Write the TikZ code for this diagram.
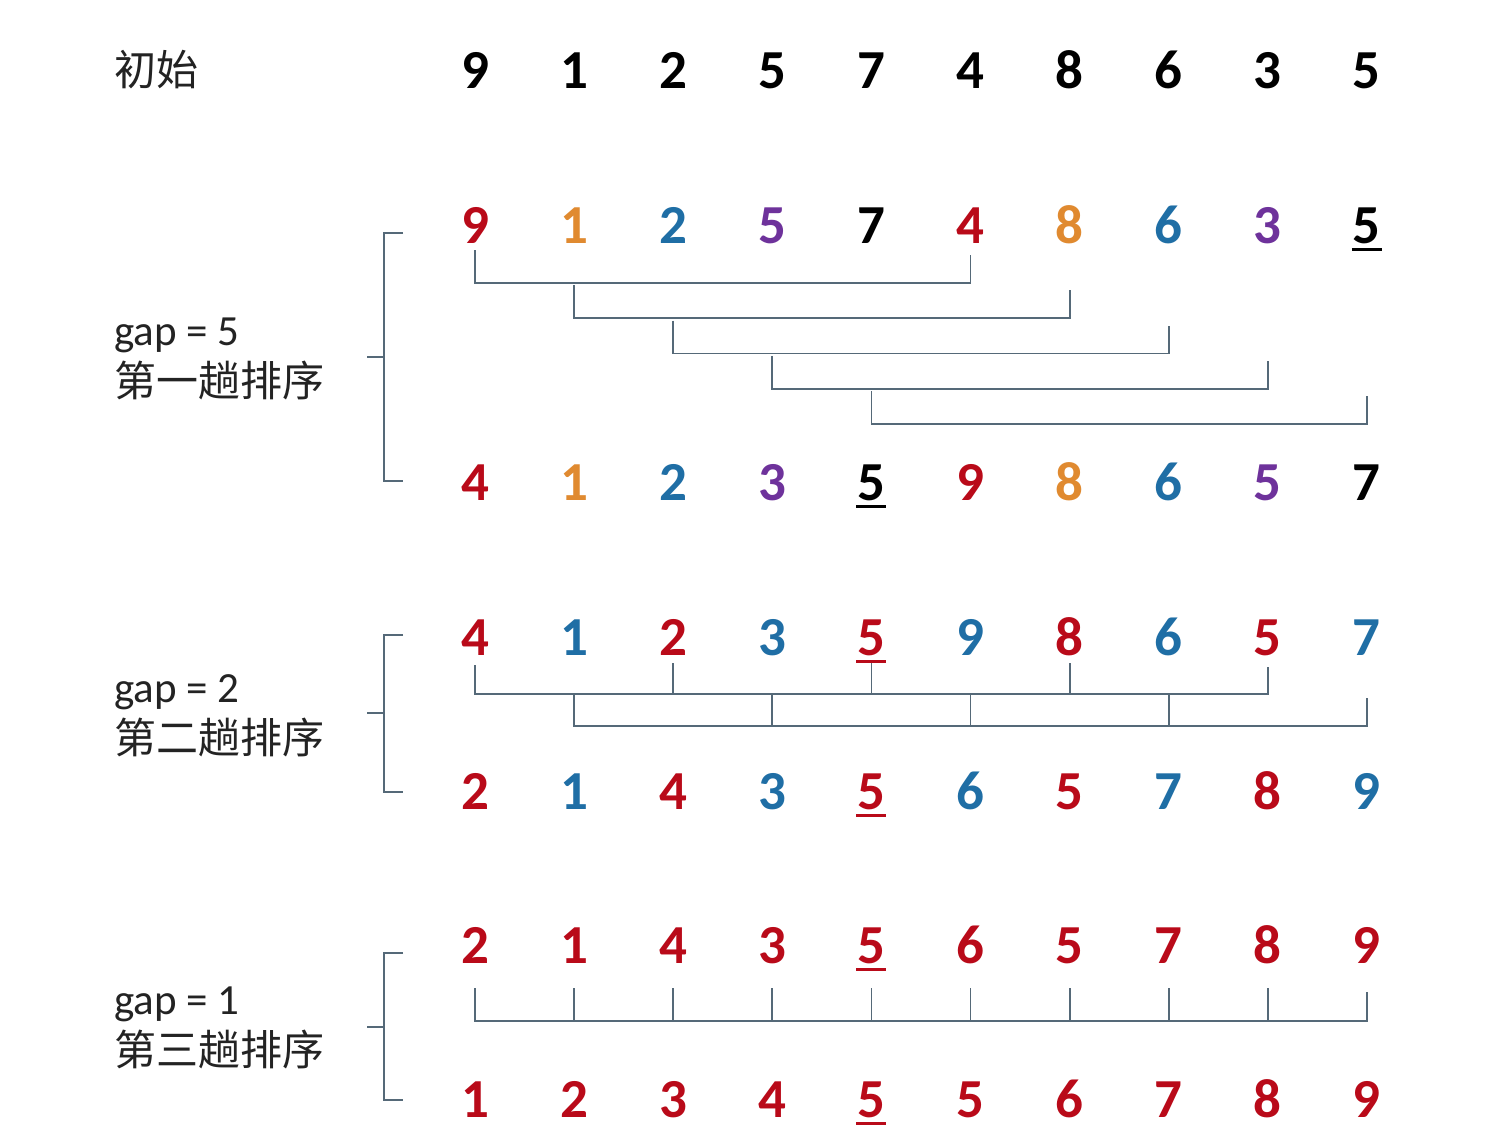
\documentclass[tikz,border=0pt]{standalone}
\usepackage{fontspec}
\setmainfont{Carlito}
\newfontfamily\cjk{Noto Sans CJK SC}
\definecolor{cR}{RGB}{185,10,25}
\definecolor{cO}{RGB}{224,138,48}
\definecolor{cB}{RGB}{31,110,165}
\definecolor{cP}{RGB}{110,50,155}
\definecolor{cK}{RGB}{0,0,0}
\definecolor{cL}{RGB}{85,105,120}
\definecolor{cT}{RGB}{35,35,35}
\newcommand\ulnum[1]{\setbox0\hbox{#1}\rlap{\hspace*{-0.5pt}\rule[-4pt]{\dimexpr\wd0+1pt\relax}{1.7pt}}\box0}
\newcommand\digitrow[3]{%
  \foreach \v/\c [count=\i from 0] in {#3} {%
    \node[num,text=\c] (#1n\i) at ({475+99.1*\i},#2) {\v};}}
\newcommand\bigbracket[3]{%
  \draw[brk] (403,#1) -- (384,#1) -- (384,#3) -- (403,#3);
  \draw[brk] (367,#2) -- (384,#2);}
\tikzset{
  num/.style={font=\fontsize{27.5}{30}\selectfont\bfseries, anchor=base, inner sep=0pt},
  conn/.style={draw=cL, line width=0.9pt},
  brk/.style={draw=cL, line width=0.9pt},
  cjklab/.style={font=\cjk\fontsize{21}{24}\selectfont, text=cT, inner sep=0pt, anchor=west},
  gaplab/.style={font=\fontsize{21.5}{24}\selectfont, text=cT, inner sep=0pt, anchor=base west}
}
\begin{document}
\begin{tikzpicture}[x=0.5pt,y=-0.5pt]
\useasboundingbox[fill=white] (0,0) rectangle (1510,1137);

% labels
\node[cjklab] (init) at (114,70) {初始};
\node[gaplab] (g5) at (114,345) {gap = 5};
\node[cjklab] (s1) at (114,380) {第一趟排序};
\node[gaplab] (g2) at (114,702) {gap = 2};
\node[cjklab] (s2) at (114,737) {第二趟排序};
\node[gaplab] (g1) at (114,1014) {gap = 1};
\node[cjklab] (s3) at (114,1049) {第三趟排序};

% digit rows
\digitrow{r1}{88}{9/cK,1/cK,2/cK,5/cK,7/cK,4/cK,8/cK,6/cK,3/cK,5/cK}
\digitrow{r2}{243}{9/cR,1/cO,2/cB,5/cP,7/cK,4/cR,8/cO,6/cB,3/cP,\ulnum{5}/cK}
\digitrow{r3}{500}{4/cR,1/cO,2/cB,3/cP,\ulnum{5}/cK,9/cR,8/cO,6/cB,5/cP,7/cK}
\digitrow{r4}{655}{4/cR,1/cB,2/cR,3/cB,\ulnum{5}/cR,9/cB,8/cR,6/cB,5/cR,7/cB}
\digitrow{r5}{809}{2/cR,1/cB,4/cR,3/cB,\ulnum{5}/cR,6/cB,5/cR,7/cB,8/cR,9/cB}
\digitrow{r6}{963}{2/cR,1/cR,4/cR,3/cR,\ulnum{5}/cR,6/cR,5/cR,7/cR,8/cR,9/cR}
\digitrow{r7}{1117}{1/cR,2/cR,3/cR,4/cR,\ulnum{5}/cR,5/cR,6/cR,7/cR,8/cR,9/cR}

% brackets
\bigbracket{233}{357}{481}
\bigbracket{635}{713}{792}
\bigbracket{953}{1027}{1100}

% gap = 5 connectors
\foreach \i in {0,...,4} {
  \pgfmathtruncatemacro\j{\i+5}
  \pgfmathsetmacro\h{283+35.25*\i}
  \pgfmathsetmacro\ya{\h-33}
  \pgfmathsetmacro\yb{\h-28}
  \draw[conn] (r2n\i |- 0,\ya) -- (r2n\i |- 0,\h) -- (r2n\j |- 0,\h) -- (r2n\j |- 0,\yb);
}

% gap = 2 connectors
\draw[conn] (r4n0 |- 0,665) -- (r4n0 |- 0,694) -- (r4n8 |- 0,694) -- (r4n8 |- 0,667);
\foreach \i in {2,4,6} \draw[conn] (r4n\i |- 0,663) -- (r4n\i |- 0,694);
\draw[conn] (r4n1 |- 0,694) -- (r4n1 |- 0,726) -- (r4n9 |- 0,726) -- (r4n9 |- 0,698);
\foreach \i in {3,5,7} \draw[conn] (r4n\i |- 0,695) -- (r4n\i |- 0,726);

% gap = 1 connectors
\draw[conn] (r6n0 |- 0,988) -- (r6n0 |- 0,1021) -- (r6n9 |- 0,1021) -- (r6n9 |- 0,992);
\foreach \i in {1,...,8} \draw[conn] (r6n\i |- 0,988) -- (r6n\i |- 0,1021);
\end{tikzpicture}
\end{document}
